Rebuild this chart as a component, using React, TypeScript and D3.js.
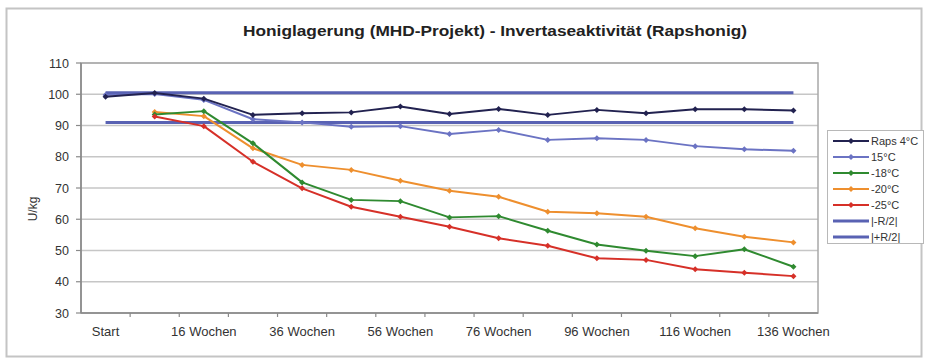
import React from "react";
import * as d3 from "d3";

const categories = [
  "Start", "6 Wochen", "16 Wochen", "26 Wochen", "36 Wochen", "46 Wochen", "56 Wochen",
  "66 Wochen", "76 Wochen", "86 Wochen", "96 Wochen", "106 Wochen", "116 Wochen",
  "126 Wochen", "136 Wochen",
];
const shownLabels = ["Start", "16 Wochen", "36 Wochen", "56 Wochen", "76 Wochen", "96 Wochen", "116 Wochen", "136 Wochen"];
const yTicks = [30, 40, 50, 60, 70, 80, 90, 100, 110];

const raps4 = [99.2, 100.4, 98.6, 93.4, 93.9, 94.2, 96.1, 93.7, 95.3, 93.4, 95.0, 93.9, 95.2, 95.2, 94.8];
const t15 = [99.8, 100.1, 98.2, 92.0, 91.0, 89.6, 89.8, 87.3, 88.6, 85.4, 85.9, 85.4, 83.4, 82.4, 81.9];
const tm18 = [null, 93.5, 94.6, 84.3, 71.8, 66.2, 65.8, 60.6, 61.0, 56.3, 51.9, 49.9, 48.2, 50.4, 44.8];
const tm20 = [null, 94.3, 93.0, 82.7, 77.4, 75.8, 72.3, 69.1, 67.2, 62.4, 61.9, 60.8, 57.1, 54.4, 52.6];
const tm25 = [null, 92.9, 89.8, 78.4, 69.9, 64.0, 60.8, 57.6, 53.9, 51.5, 47.5, 47.0, 44.0, 42.9, 41.8];
const minusR2 = [91, 91, 91, 91, 91, 91, 91, 91, 91, 91, 91, 91, 91, 91, 91];
const plusR2 = [100.5, 100.5, 100.5, 100.5, 100.5, 100.5, 100.5, 100.5, 100.5, 100.5, 100.5, 100.5, 100.5, 100.5, 100.5];

type Series = { name: string; values: (number | null)[]; color: string; width: number; marker: boolean };

const series: Series[] = [
  { name: "|-R/2|", values: minusR2, color: "#5962b3", width: 3, marker: false },
  { name: "|+R/2|", values: plusR2, color: "#5962b3", width: 3, marker: false },
  { name: "15°C", values: t15, color: "#6b73c3", width: 2, marker: true },
  { name: "Raps 4°C", values: raps4, color: "#222250", width: 2, marker: true },
  { name: "-20°C", values: tm20, color: "#ee8f2e", width: 2, marker: true },
  { name: "-18°C", values: tm18, color: "#2f8a30", width: 2, marker: true },
  { name: "-25°C", values: tm25, color: "#d63028", width: 2, marker: true },
];
const legendOrder = ["Raps 4°C", "15°C", "-18°C", "-20°C", "-25°C", "|-R/2|", "|+R/2|"];

const W = 928;
const H = 360;
const plot = { left: 81, right: 818, top: 63, bottom: 313 };
const font = "Liberation Sans, Arial, sans-serif";

function Diamond({ x, y, color }: { x: number; y: number; color: string }) {
  const s = 3;
  return <path d={`M${x},${y - s}L${x + s},${y}L${x},${y + s}L${x - s},${y}Z`} fill={color} />;
}

export default function App() {
  const x = d3.scalePoint<string>().domain(categories).range([plot.left, plot.right]).padding(0.5);
  const step = x.step();
  const y = d3.scaleLinear().domain([30, 110]).range([plot.bottom, plot.top]);
  const line = d3
    .line<number | null>()
    .defined((d) => d !== null)
    .x((_, i) => x(categories[i]) as number)
    .y((d) => y(d as number));

  return (
    <svg width={W} height={H} style={{ position: "absolute", left: 0, top: 0, background: "#fff" }}>
      <rect x={6.5} y={8.5} width={915} height={348} fill="#fff" stroke="#c4c4c4" strokeWidth={2} />
      <text
        x={495}
        y={36}
        textAnchor="middle"
        fontFamily={font}
        fontWeight="bold"
        fontSize={14}
        fill="#222"
        textLength={504}
        lengthAdjust="spacingAndGlyphs"
      >
        Honiglagerung (MHD-Projekt) - Invertaseaktivität (Rapshonig)
      </text>

      {/* grid */}
      {yTicks.map((t) => (
        <line key={t} x1={plot.left} x2={plot.right} y1={y(t)} y2={y(t)} stroke="#c6c6c6" strokeWidth={1.6} />
      ))}
      <rect
        x={plot.left}
        y={plot.top}
        width={plot.right - plot.left}
        height={plot.bottom - plot.top}
        fill="none"
        stroke="#a8a8a8"
        strokeWidth={1.5}
      />
      <line x1={plot.left} x2={plot.left} y1={plot.top} y2={plot.bottom} stroke="#8a8a8a" strokeWidth={1.6} />
      <line x1={plot.left} x2={plot.right} y1={plot.bottom} y2={plot.bottom} stroke="#8a8a8a" strokeWidth={1.6} />

      {/* y axis */}
      {yTicks.map((t) => (
        <g key={t}>
          <line x1={plot.left - 5} x2={plot.left} y1={y(t)} y2={y(t)} stroke="#8a8a8a" strokeWidth={1.2} />
          <text x={69} y={y(t) + 4.5} textAnchor="end" fontFamily={font} fontSize={12.5} fill="#333">
            {t}
          </text>
        </g>
      ))}
      <text
        transform={`translate(37,${(plot.top + plot.bottom) / 2 + 21}) rotate(-90)`}
        textAnchor="middle"
        fontFamily={font}
        fontSize={12}
        fill="#333"
      >
        U/kg
      </text>

      {/* x axis */}
      {categories.slice(1).map((c) => (
        <line
          key={c}
          x1={(x(c) as number) - step / 2}
          x2={(x(c) as number) - step / 2}
          y1={plot.bottom}
          y2={plot.bottom + 4}
          stroke="#8a8a8a"
          strokeWidth={1.2}
        />
      ))}
      {shownLabels.map((c) => (
        <text key={c} x={x(c)} y={336} textAnchor="middle" fontFamily={font} fontSize={13} fill="#333">
          {c}
        </text>
      ))}

      {/* series */}
      {series.map((s) => (
        <g key={s.name}>
          <path d={line(s.values) || ""} fill="none" stroke={s.color} strokeWidth={s.width} strokeLinejoin="round" />
          {s.marker &&
            s.values.map((v, i) =>
              v === null ? null : <Diamond key={i} x={x(categories[i]) as number} y={y(v)} color={s.color} />
            )}
        </g>
      ))}

      {/* legend */}
      <rect x={827.5} y={130.5} width={96} height={113} fill="#fff" stroke="#b8b8b8" strokeWidth={1} />
      {legendOrder.map((name, i) => {
        const s = series.find((d) => d.name === name)!;
        const ly = 141 + i * 16;
        return (
          <g key={name}>
            <line x1={833} x2={869} y1={ly} y2={ly} stroke={s.color} strokeWidth={s.width} />
            {s.marker && <Diamond x={851} y={ly} color={s.color} />}
            <text x={871} y={ly + 4} fontFamily={font} fontSize={11} fill="#333">
              {name}
            </text>
          </g>
        );
      })}
    </svg>
  );
}
